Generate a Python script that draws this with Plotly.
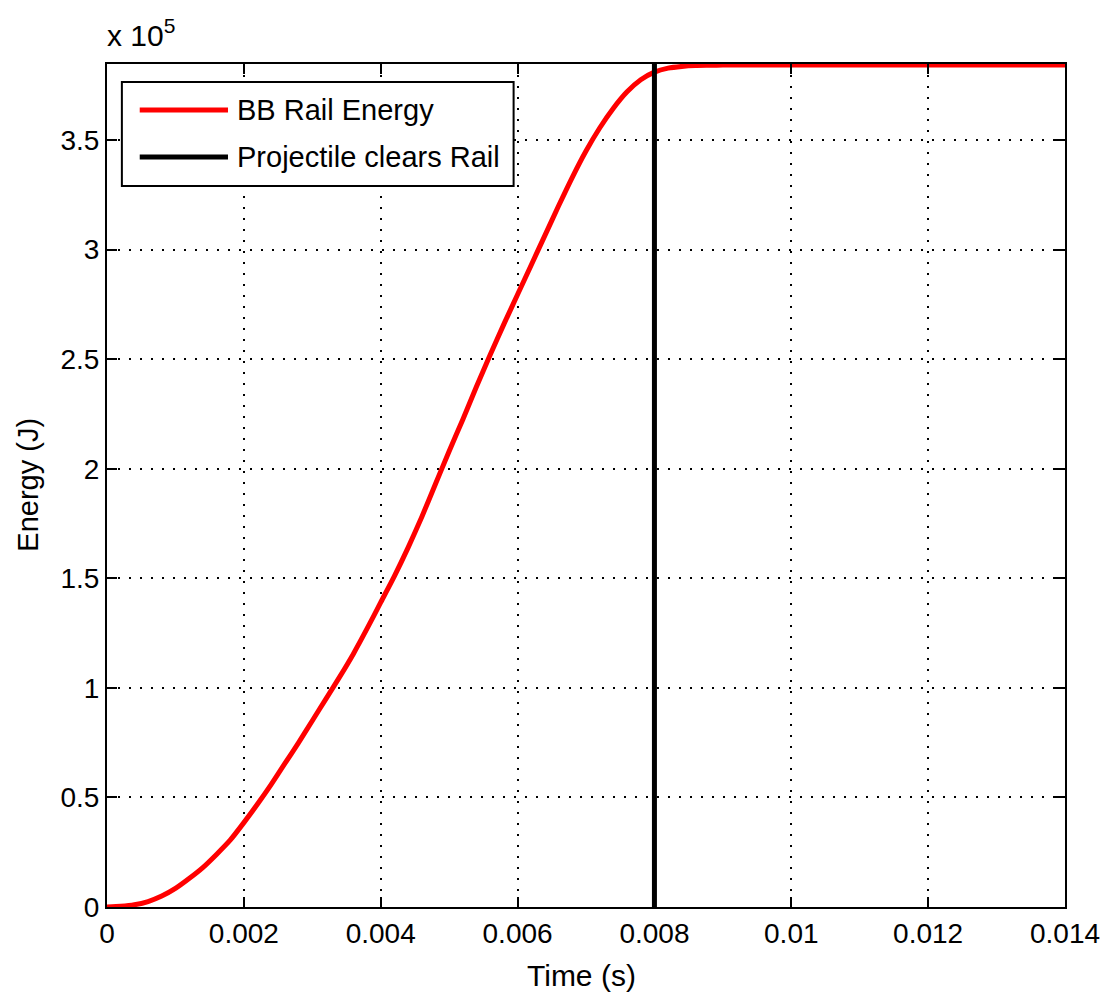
import plotly.graph_objects as go

# ---- data ----
time_ms = [0, 0.2, 0.4, 0.6, 0.8, 1.0, 1.2, 1.4, 1.6, 1.8,
           2.0, 2.2, 2.4, 2.6, 2.8, 3.0, 3.2, 3.4, 3.6, 3.8,
           4.0, 4.2, 4.4, 4.6, 4.8, 5.0, 5.2, 5.4, 5.6, 5.8,
           6.0, 6.2, 6.4, 6.6, 6.8, 7.0, 7.2, 7.4, 7.6, 7.8,
           8.0, 8.2, 8.4, 8.6, 8.8, 9.0, 10.0, 12.0, 14.0]
energy_e5 = [0, 0.003, 0.01, 0.025, 0.05, 0.085, 0.13, 0.18, 0.24, 0.305,
             0.385, 0.47, 0.56, 0.655, 0.75, 0.85, 0.95, 1.05, 1.155, 1.27,
             1.39, 1.51, 1.64, 1.78, 1.93, 2.08, 2.225, 2.375, 2.52, 2.66,
             2.795, 2.93, 3.065, 3.20, 3.33, 3.45, 3.555, 3.645, 3.72, 3.775,
             3.81, 3.828, 3.836, 3.84, 3.841, 3.842, 3.842, 3.842, 3.842]
time_s = [t / 1000 for t in time_ms]
energy_j = [v * 1e5 for v in energy_e5]

clear_time = [0.008, 0.008]
clear_energy = [0, 3.847e5]

x_range = [0, 0.014]
y_range = [0, 3.847e5]
x_ticks = [0, 0.002, 0.004, 0.006, 0.008, 0.01, 0.012, 0.014]
x_ticktext = ["0", "0.002", "0.004", "0.006", "0.008", "0.01", "0.012", "0.014"]
y_ticks_e5 = [0, 0.5, 1, 1.5, 2, 2.5, 3, 3.5]
y_ticktext = ["0", "0.5", "1", "1.5", "2", "2.5", "3", "3.5"]
y_ticks = [v * 1e5 for v in y_ticks_e5]

series_names = ["BB Rail Energy", "Projectile clears Rail"]
series_colors = ["#ff0000", "#000000"]

# ---- layout geometry (pixels in the 1112x997 window; page body has 8px margin) ----
OFF = 8
W, H = 1112 - OFF, 997 - OFF
L, R, T, B = 107, 1073, 64, 907
FONT = "Liberation Sans"
FS = 28


def px(xp):
    return (xp - L) / (R - L)


def py(yp):
    return (B - yp) / (B - T)


fig = go.Figure()
fig.add_trace(go.Scatter(x=time_s, y=energy_j, mode="lines", name=series_names[0],
                         line=dict(color=series_colors[0], width=5, shape="spline", smoothing=0.6),
                         showlegend=False))
fig.add_trace(go.Scatter(x=clear_time, y=clear_energy, mode="lines", name=series_names[1],
                         line=dict(color=series_colors[1], width=5), showlegend=False))

axis_common = dict(
    showline=True, linecolor="black", linewidth=2, mirror="ticks",
    ticks="inside", ticklen=10, tickwidth=2, tickcolor="black",
    showgrid=True, gridcolor="black", gridwidth=2, griddash="2px,9px",
    zeroline=False, tickfont=dict(family=FONT, size=FS, color="black"),
)

fig.update_xaxes(range=x_range, tickvals=x_ticks, ticktext=x_ticktext, **axis_common)
fig.update_yaxes(range=y_range, tickvals=y_ticks, ticktext=y_ticktext, **axis_common)

shapes = []
annotations = []
# legend box
shapes.append(dict(type="rect", xref="paper", yref="paper",
                   x0=px(122), x1=px(517), y0=py(186), y1=py(82),
                   line=dict(color="black", width=2), fillcolor="white", layer="above"))
legend_rows = [110, 157]
for name, color, yrow in zip(series_names, series_colors, legend_rows):
    shapes.append(dict(type="line", xref="paper", yref="paper",
                       x0=px(140), x1=px(229), y0=py(yrow), y1=py(yrow),
                       line=dict(color=color, width=5), layer="above"))
    annotations.append(dict(xref="paper", yref="paper", x=px(236), y=py(yrow),
                            xanchor="left", yanchor="middle", showarrow=False,
                            text=name, font=dict(family=FONT, size=29, color="black")))

# axis titles and exponent
annotations.append(dict(xref="paper", yref="paper", x=px(585), y=py(975),
                        xanchor="center", yanchor="middle", showarrow=False,
                        text="Time (s)", font=dict(family=FONT, size=30, color="black")))
annotations.append(dict(xref="paper", yref="paper", x=px(27), y=py(485),
                        xanchor="center", yanchor="middle", showarrow=False, textangle=-90,
                        text="Energy (J)", font=dict(family=FONT, size=29, color="black")))
annotations.append(dict(xref="paper", yref="paper", x=px(105), y=py(54),
                        xanchor="left", yanchor="bottom", showarrow=False,
                        text="x 10<sup>5</sup>", font=dict(family=FONT, size=30, color="black")))

fig.update_layout(
    width=W, height=H,
    margin=dict(l=L - OFF, r=1112 - R, t=T - OFF, b=997 - B),
    paper_bgcolor="white", plot_bgcolor="white",
    shapes=shapes, annotations=annotations,
    font=dict(family=FONT, size=FS, color="black"),
)

fig.write_html("out.html")
